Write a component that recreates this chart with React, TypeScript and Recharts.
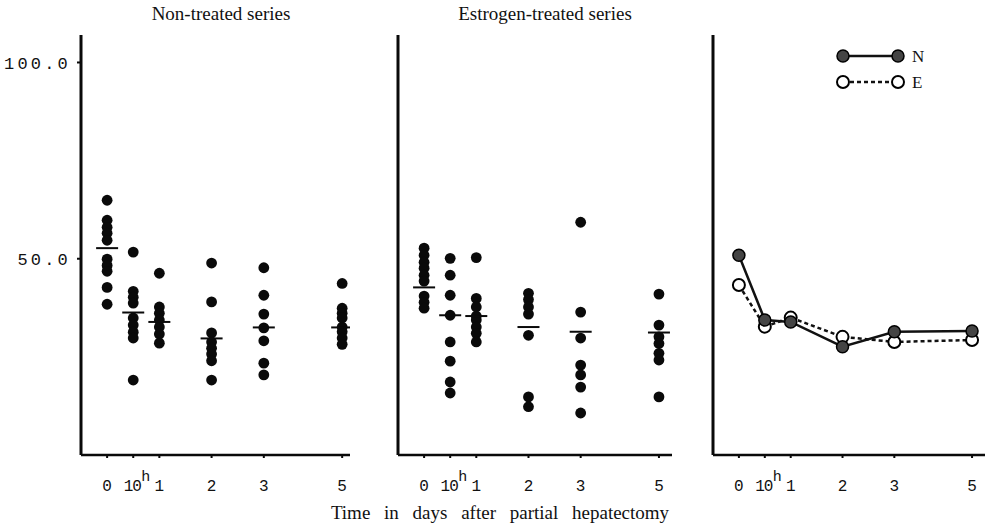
import React from "react";
import {
  ScatterChart,
  Scatter,
  LineChart,
  Line,
  XAxis,
  YAxis,
} from "recharts";

// time points; "slot" is where each one sits on the (uneven) time axis
const slots = [0, 0.5, 1, 2, 3, 4.5];
const timeLabels = ["0", "10h", "1", "2", "3", "5"];
const yTicks = [50, 100];

// individual values, one list per time point
const nonTreatedDots = [
  [64.9, 59.8, 58.0, 56.5, 54.7, 49.9, 48.3, 46.8, 42.7, 38.4],
  [51.7, 41.7, 40.2, 38.7, 34.9, 33.1, 31.3, 29.8, 19.1],
  [46.3, 37.7, 36.1, 34.4, 32.6, 30.8, 28.5],
  [48.9, 39.0, 31.1, 28.8, 27.2, 25.7, 24.0, 19.1],
  [47.7, 40.7, 35.9, 32.4, 29.1, 23.4, 20.4],
  [43.7, 37.4, 36.1, 34.9, 32.6, 31.4, 29.8, 28.2],
];
const nonTreatedMeans = [52.7, 36.3, 33.9, 29.7, 32.5, 32.5];

const estrogenDots = [
  [52.7, 50.9, 49.1, 47.6, 45.8, 44.3, 40.5, 38.9, 37.4],
  [50.1, 45.8, 40.7, 35.6, 28.8, 23.9, 18.6, 15.8],
  [50.3, 39.9, 37.7, 35.4, 34.4, 32.6, 31.0, 28.8],
  [41.2, 39.6, 37.7, 35.9, 30.5, 14.8, 12.3],
  [59.3, 36.4, 29.8, 22.9, 20.4, 17.3, 10.7],
  [41.0, 33.1, 30.1, 28.4, 25.9, 24.2, 14.8],
];
const estrogenMeans = [42.7, 35.6, 35.4, 32.6, 31.4, 31.2];

// right panel: means of both series
const meanN = [50.9, 34.4, 33.9, 27.6, 31.4, 31.6];
const meanE = [43.3, 32.7, 35.0, 30.1, 28.8, 29.3];

const flatten = (cols: number[][]) =>
  cols.flatMap((vals, i) => vals.map((v) => ({ slot: slots[i], value: v })));
const meanRows = (means: number[]) =>
  means.map((v, i) => ({ slot: slots[i], value: v }));

const lineRows = slots.map((s, i) => ({ slot: s, n: meanN[i], e: meanE[i] }));

const mono = "'Liberation Mono', 'DejaVu Sans Mono', monospace";
const serif = "'Liberation Serif', 'DejaVu Serif', serif";

const Dot = (props: any) => <circle cx={props.cx} cy={props.cy} r={5.4} fill="#0a0a0a" />;
const MeanBar = (props: any) => (
  <line x1={props.cx - 11} x2={props.cx + 11} y1={props.cy} y2={props.cy} stroke="#0a0a0a" strokeWidth={2} />
);

const TimeTick = (props: any) => {
  const { x, y, payload } = props;
  const label = timeLabels[slots.indexOf(payload.value)];
  if (label === "10h") {
    return (
      <g fontFamily={mono} fill="#111">
        <text x={x - 1} y={y + 31} textAnchor="middle" fontSize={16} letterSpacing={-1}>10</text>
        <text x={x + 8} y={y + 21} fontSize={15}>h</text>
      </g>
    );
  }
  return (
    <text x={x} y={y + 31} textAnchor="middle" fontFamily={mono} fontSize={16} fill="#111">
      {label}
    </text>
  );
};

const ValueTick = (props: any) => {
  const { x, y, payload } = props;
  return (
    <text x={x} y={y} dy="0.36em" textAnchor="end" fontFamily={mono} fontSize={17} letterSpacing={3.2} fill="#111">
      {payload.value.toFixed(1)}
    </text>
  );
};

const axisX = (domainMax: number) => (
  <XAxis
    type="number"
    dataKey="slot"
    domain={[-0.5, domainMax]}
    ticks={slots}
    allowDataOverflow
    height={40}
    tickSize={3}
    axisLine={{ stroke: "#0a0a0a", strokeWidth: 2.5 }}
    tickLine={{ stroke: "#0a0a0a", strokeWidth: 2 }}
    tick={<TimeTick />}
  />
);

const axisY = (width: number, labels: boolean) => (
  <YAxis
    type="number"
    dataKey="value"
    domain={[0, 107]}
    ticks={yTicks}
    allowDataOverflow
    width={width}
    tickSize={4}
    tickMargin={6}
    axisLine={{ stroke: "#0a0a0a", strokeWidth: 3 }}
    tickLine={{ stroke: "#0a0a0a", strokeWidth: 2 }}
    tick={labels ? <ValueTick /> : false}
  />
);

const LegendBox = () => (
  <svg width={100} height={50}>
    <line x1={8} x2={63} y1={10} y2={10} stroke="#111" strokeWidth={2.5} />
    <circle cx={8} cy={10} r={6} fill="#444" stroke="#000" strokeWidth={1.5} />
    <circle cx={63} cy={10} r={6} fill="#444" stroke="#000" strokeWidth={1.5} />
    <text x={77} y={16} fontFamily={serif} fontSize={17} fill="#111">N</text>
    <line x1={8} x2={63} y1={36} y2={36} stroke="#111" strokeWidth={2.5} strokeDasharray="4 3" />
    <circle cx={8} cy={36} r={6} fill="#fff" stroke="#000" strokeWidth={2} />
    <circle cx={63} cy={36} r={6} fill="#fff" stroke="#000" strokeWidth={2} />
    <text x={77} y={42} fontFamily={serif} fontSize={17} fill="#111">E</text>
  </svg>
);

const title: React.CSSProperties = {
  position: "absolute",
  fontFamily: serif,
  fontSize: 19,
  lineHeight: "22px",
  color: "#111",
  whiteSpace: "nowrap",
  transform: "translateX(-50%)",
};

export default function App() {
  return (
    <div style={{ position: "absolute", left: 0, top: 0, width: 993, height: 530, background: "#fff" }}>
      <div style={{ ...title, left: 221, top: 3 }}>Non-treated series</div>
      <div style={{ ...title, left: 545, top: 3 }}>Estrogen-treated series</div>

      <div style={{ position: "absolute", left: 0, top: 0 }}>
        <ScatterChart width={360} height={500} margin={{ top: 35, right: 10, bottom: 5, left: 0 }}>
          {axisX(4.65)}
          {axisY(81, true)}
          <Scatter data={flatten(nonTreatedDots)} shape={<Dot />} isAnimationActive={false} />
          <Scatter data={meanRows(nonTreatedMeans)} shape={<MeanBar />} isAnimationActive={false} />
        </ScatterChart>
      </div>

      <div style={{ position: "absolute", left: 360, top: 0 }}>
        <ScatterChart width={322} height={500} margin={{ top: 35, right: 10, bottom: 5, left: 0 }}>
          {axisX(4.75)}
          {axisY(38, false)}
          <Scatter data={flatten(estrogenDots)} shape={<Dot />} isAnimationActive={false} />
          <Scatter data={meanRows(estrogenMeans)} shape={<MeanBar />} isAnimationActive={false} />
        </ScatterChart>
      </div>

      <div style={{ position: "absolute", left: 680, top: 0 }}>
        <LineChart width={313} height={500} data={lineRows} margin={{ top: 35, right: 8, bottom: 5, left: 0 }}>
          {axisX(4.75)}
          <YAxis
            type="number"
            domain={[0, 107]}
            ticks={yTicks}
            width={33}
            tickSize={4}
            axisLine={{ stroke: "#0a0a0a", strokeWidth: 3 }}
            tickLine={{ stroke: "#0a0a0a", strokeWidth: 2 }}
            tick={false}
          />
          <Line
            dataKey="e"
            stroke="#111"
            strokeWidth={2.5}
            strokeDasharray="4 3"
            dot={{ r: 6, fill: "#fff", stroke: "#000", strokeWidth: 2, strokeDasharray: "" }}
            isAnimationActive={false}
          />
          <Line
            dataKey="n"
            stroke="#111"
            strokeWidth={2.5}
            dot={{ r: 6, fill: "#444", stroke: "#000", strokeWidth: 1.5 }}
            isAnimationActive={false}
          />
        </LineChart>
      </div>

      <div style={{ position: "absolute", left: 835, top: 46 }}>
        <LegendBox />
      </div>

      <div style={{ ...title, left: 500, top: 502, wordSpacing: 9 }}>
        Time in days after partial hepatectomy
      </div>
    </div>
  );
}
